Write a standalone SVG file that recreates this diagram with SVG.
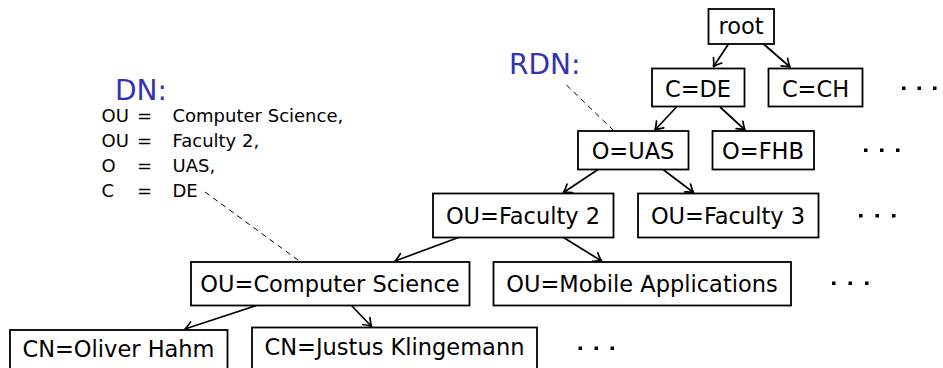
<svg xmlns="http://www.w3.org/2000/svg" width="943" height="368" viewBox="0 0 943 368">
<defs>
<marker id="arr" markerUnits="userSpaceOnUse" markerWidth="16" markerHeight="16" viewBox="-9 -8 11 16" refX="0" refY="0" orient="auto">
<path d="M -7.5 -5 Q -3 -1.4 0 0 Q -3 1.4 -7.5 5" fill="none" stroke="#000" stroke-width="1.7" stroke-linecap="round" stroke-linejoin="round"/>
</marker>
<style>
.box{fill:#fff;stroke:#000;stroke-width:1.8}
.t{font-family:"DejaVu Sans",sans-serif;font-size:22.5px;fill:#000;text-anchor:middle}
.dn{font-family:"DejaVu Sans",sans-serif;font-size:18px;fill:#000}
.lab{font-family:"DejaVu Sans",sans-serif;font-size:28px;fill:#3333b3}
.e{fill:none;stroke:#000;stroke-width:1.7;marker-end:url(#arr)}
.d{fill:none;stroke:#000;stroke-width:1;stroke-dasharray:5.5 4.5}
.dot{fill:#000}
</style>
</defs>
<rect width="943" height="368" fill="#fff"/>
<g id="connectors">
<line class="e" x1="728.5" y1="44" x2="713.5" y2="66.5"/>
<line class="e" x1="763.5" y1="44" x2="790" y2="67"/>
<line class="e" x1="676.5" y1="107" x2="655" y2="130"/>
<line class="e" x1="720" y1="107" x2="745" y2="130"/>
<line class="e" x1="598" y1="169.5" x2="563.5" y2="192.5"/>
<line class="e" x1="663" y1="169.5" x2="693.5" y2="192.5"/>
<line class="e" x1="458.5" y1="237.5" x2="395" y2="261"/>
<line class="e" x1="563.5" y1="237.5" x2="601.5" y2="261"/>
<line class="e" x1="256.5" y1="305.5" x2="185" y2="329"/>
<line class="e" x1="351.5" y1="305.5" x2="371.5" y2="326.5"/>
<line class="d" x1="566.5" y1="85" x2="613.5" y2="130.5"/>
<line class="d" x1="205" y1="192" x2="300" y2="261.5"/>
</g>
<g id="n-root"><rect class="box" x="708.5" y="9" width="65.5" height="35"/><text class="t" x="741" y="34">root</text></g>
<g id="n-cde"><rect class="box" x="652" y="68.5" width="92.5" height="38"/><text class="t" x="698" y="96.5">C=DE</text></g>
<g id="n-cch"><rect class="box" x="768.5" y="68.5" width="94" height="38"/><text class="t" x="815.5" y="96.5">C=CH</text></g>
<g id="n-uas"><rect class="box" x="578" y="131" width="110.5" height="38.5"/><text class="t" x="633" y="158.5">O=UAS</text></g>
<g id="n-fhb"><rect class="box" x="712.5" y="131" width="101.5" height="38.5"/><text class="t" x="763" y="158.5">O=FHB</text></g>
<g id="n-f2"><rect class="box" x="433" y="193.5" width="180.5" height="44"/><text class="t" x="523" y="223.5">OU=Faculty 2</text></g>
<g id="n-f3"><rect class="box" x="638" y="193.5" width="180.5" height="44"/><text class="t" x="728" y="223.5">OU=Faculty 3</text></g>
<g id="n-cs"><rect class="box" x="191" y="262" width="278.5" height="43.5"/><text class="t" x="330" y="291.7">OU=Computer Science</text></g>
<g id="n-mob"><rect class="box" x="493.5" y="262" width="297.5" height="43.5"/><text class="t" x="642" y="291.7">OU=Mobile Applications</text></g>
<g id="n-oliver"><rect class="box" x="10" y="330" width="217.5" height="50"/><text class="t" x="118.5" y="356.7">CN=Oliver Hahm</text></g>
<g id="n-justus"><rect class="box" x="252" y="327.5" width="285" height="50"/><text class="t" x="394.5" y="355.3">CN=Justus Klingemann</text></g>
<g id="dots">
<rect class="dot" x="902" y="86.5" width="3.5" height="3.5"/><rect class="dot" x="917.5" y="86.5" width="3.5" height="3.5"/><rect class="dot" x="933" y="86.5" width="3.5" height="3.5"/>
<rect class="dot" x="864" y="148.5" width="3.5" height="3.5"/><rect class="dot" x="880" y="148.5" width="3.5" height="3.5"/><rect class="dot" x="896" y="148.5" width="3.5" height="3.5"/>
<rect class="dot" x="859" y="214" width="3.5" height="3.5"/><rect class="dot" x="875.5" y="214" width="3.5" height="3.5"/><rect class="dot" x="892" y="214" width="3.5" height="3.5"/>
<rect class="dot" x="832" y="281.5" width="3.5" height="3.5"/><rect class="dot" x="848.5" y="281.5" width="3.5" height="3.5"/><rect class="dot" x="865" y="281.5" width="3.5" height="3.5"/>
<rect class="dot" x="578.5" y="346.5" width="3.5" height="3.5"/><rect class="dot" x="594.5" y="346.5" width="3.5" height="3.5"/><rect class="dot" x="610.5" y="346.5" width="3.5" height="3.5"/>
</g>
<g id="labels">
<text class="lab" x="509" y="74">RDN:</text>
<text class="lab" x="115" y="100">DN:</text>
<text class="dn" x="101.5" y="121.7">OU</text><text class="dn" x="137" y="121.7">=</text><text class="dn" x="172.5" y="121.7">Computer Science,</text>
<text class="dn" x="101.5" y="146.7">OU</text><text class="dn" x="137" y="146.7">=</text><text class="dn" x="172.5" y="146.7">Faculty 2,</text>
<text class="dn" x="101.5" y="171.7">O</text><text class="dn" x="137" y="171.7">=</text><text class="dn" x="172.5" y="171.7">UAS,</text>
<text class="dn" x="101.5" y="197.3">C</text><text class="dn" x="137" y="197.3">=</text><text class="dn" x="172.5" y="197.3">DE</text>
</g>
</svg>
